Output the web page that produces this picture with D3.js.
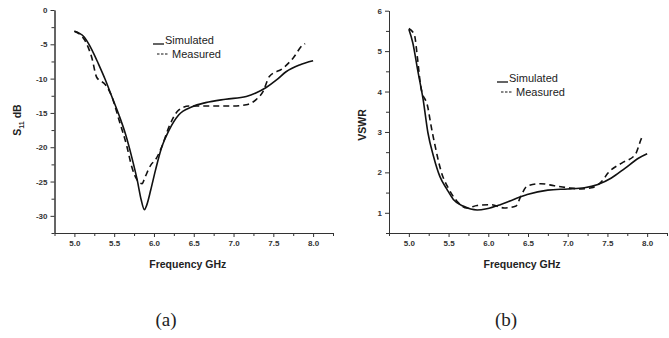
<!DOCTYPE html>
<html lang="en">
<head>
<meta charset="UTF-8">
<title>S11 and VSWR</title>
<style>
    body { margin: 0; background: #fff; }
    svg { display: block; }
    .tick text { font-family: "Liberation Sans", Arial, sans-serif; font-weight: bold; font-size: 8px; fill: #333; }
    .axis path, .axis line { stroke: #333; stroke-width: 1px; }
    .axis-title { font-family: "Liberation Sans", Arial, sans-serif; font-weight: bold; font-size: 10.5px; fill: #222; }
    .legend-text { font-family: "Liberation Sans", Arial, sans-serif; font-size: 11px; fill: #222; }
    .caption { font-family: "Liberation Serif", "Times New Roman", serif; font-size: 19px; fill: #222; }
    .curve { fill: none; stroke: #111; stroke-width: 1.6px; }
    .measured { stroke-dasharray: 6, 4; }
</style>
</head>
<body>
<svg id="chart" width="669" height="338"></svg>
<script src="https://d3js.org/d3.v7.min.js"></script>
<script>
// --- Data ---
const xTicks = [5.0, 5.5, 6.0, 6.5, 7.0, 7.5, 8.0];
const xMinor = [4.75, 5.25, 5.75, 6.25, 6.75, 7.25, 7.75, 8.25];

// (a) S11 in dB
const s11Ticks = [0, -5, -10, -15, -20, -25, -30];
const s11Minor = [-2.5, -7.5, -12.5, -17.5, -22.5, -27.5, -32.5];
const s11Sim = [
    [5.0, -3.1], [5.12, -3.9], [5.22, -5.8], [5.3, -7.8], [5.39, -10.2], [5.47, -12.6],
    [5.56, -15.3], [5.64, -18.0], [5.72, -21.4], [5.79, -24.8], [5.84, -27.7], [5.88, -29.1],
    [5.91, -28.4], [5.96, -26.2], [6.02, -23.3], [6.1, -19.9], [6.19, -17.5], [6.31, -15.3],
    [6.48, -14.1], [6.65, -13.5], [6.9, -13.0], [7.16, -12.6], [7.28, -12.1], [7.41, -11.3],
    [7.54, -10.2], [7.66, -9.0], [7.83, -8.0], [8.0, -7.4]
];
const s11Meas = [
    [5.0, -3.1], [5.13, -4.4], [5.22, -7.0], [5.28, -9.8], [5.39, -10.9], [5.47, -12.6],
    [5.56, -16.0], [5.66, -19.9], [5.72, -22.8], [5.79, -24.8], [5.85, -25.3], [5.89, -24.3],
    [5.96, -22.6], [6.02, -21.8], [6.1, -19.9], [6.19, -17.0], [6.31, -14.6], [6.44, -14.0],
    [6.65, -14.0], [6.99, -14.0], [7.16, -13.8], [7.28, -13.1], [7.37, -11.9], [7.45, -9.7],
    [7.62, -8.5], [7.75, -7.0], [7.87, -5.1], [7.9, -4.9]
];

// (b) VSWR
const vswrTicks = [1, 2, 3, 4, 5, 6];
const vswrMinor = [0.5, 1.5, 2.5, 3.5, 4.5, 5.5];
const vswrSim = [
    [5.0, 5.54], [5.05, 5.2], [5.11, 4.54], [5.18, 3.8], [5.24, 2.98], [5.31, 2.4],
    [5.39, 1.9], [5.48, 1.58], [5.56, 1.33], [5.69, 1.16], [5.86, 1.07], [5.98, 1.1],
    [6.15, 1.2], [6.32, 1.33], [6.49, 1.45], [6.75, 1.56], [7.0, 1.59], [7.21, 1.62],
    [7.38, 1.7], [7.55, 1.86], [7.72, 2.1], [7.89, 2.35], [8.0, 2.46]
];
const vswrMeas = [
    [5.0, 5.56], [5.07, 5.4], [5.11, 4.8], [5.15, 4.12], [5.24, 3.6], [5.28, 3.15],
    [5.33, 2.66], [5.41, 2.0], [5.5, 1.6], [5.6, 1.3], [5.73, 1.12], [5.86, 1.18],
    [6.03, 1.2], [6.2, 1.12], [6.35, 1.17], [6.41, 1.41], [6.49, 1.66], [6.66, 1.72],
    [6.83, 1.67], [7.0, 1.62], [7.17, 1.59], [7.3, 1.62], [7.43, 1.78], [7.51, 1.99],
    [7.68, 2.23], [7.85, 2.44], [7.92, 2.8], [7.94, 2.9]
];

const svg = d3.select("#chart");

function panel(opts) {
    const x = d3.scaleLinear().domain([4.75, 8.25]).range(opts.xRange);
    const y = d3.scaleLinear().domain(opts.yDomain).range([233, opts.yTop]);
    const g = svg.append("g");

    // minor ticks first, then the major axis on top
    g.append("g").attr("class", "axis")
        .attr("transform", "translate(0,233)")
        .call(d3.axisBottom(x).tickValues(xMinor).tickSize(3).tickSizeOuter(0).tickFormat(""));
    g.append("g").attr("class", "axis")
        .attr("transform", "translate(0,233)")
        .call(d3.axisBottom(x).tickValues(xTicks).tickSize(4).tickSizeOuter(0).tickPadding(3).tickFormat(d3.format(".1f")));
    g.append("g").attr("class", "axis")
        .attr("transform", `translate(${opts.xRange[0]},0)`)
        .call(d3.axisLeft(y).tickValues(opts.yMinor).tickSize(3).tickSizeOuter(0).tickFormat(""));
    g.append("g").attr("class", "axis")
        .attr("transform", `translate(${opts.xRange[0]},0)`)
        .call(d3.axisLeft(y).tickValues(opts.yTicks).tickSize(4).tickSizeOuter(0).tickPadding(3)
            .tickFormat(d => String(d)));

    const line = d3.line()
        .x(d => x(d[0]))
        .y(d => y(d[1]))
        .curve(d3.curveMonotoneX);

    g.append("path").datum(opts.sim).attr("class", "curve").attr("d", line);
    g.append("path").datum(opts.meas).attr("class", "curve measured").attr("d", line);

    // axis titles
    g.append("text").attr("class", "axis-title")
        .attr("x", (opts.xRange[0] + opts.xRange[1]) / 2 - 6)
        .attr("y", 268)
        .attr("text-anchor", "middle")
        .text("Frequency GHz");
    const yt = g.append("text").attr("class", "axis-title")
        .attr("transform", `translate(${opts.yTitleX},${opts.yTitleY}) rotate(-90)`)
        .attr("text-anchor", "middle");
    opts.yTitle(yt);

    // legend
    const lg = g.append("g").attr("transform", `translate(${opts.legend[0]},${opts.legend[1]})`);
    lg.append("line").attr("class", "curve").attr("x1", 0).attr("x2", 11).attr("y1", 0).attr("y2", 0)
        .style("stroke-width", "1.3px");
    lg.append("text").attr("class", "legend-text").attr("x", 12).attr("y", 0).text("Simulated");
    lg.append("line").attr("class", "curve").attr("x1", 4).attr("x2", 16).attr("y1", 10).attr("y2", 10)
        .style("stroke-dasharray", "2.5,1.5").style("stroke-width", "1.1px");
    lg.append("text").attr("class", "legend-text").attr("x", 19).attr("y", 14).text("Measured");

    // caption
    svg.append("text").attr("class", "caption")
        .attr("x", opts.caption).attr("y", 326)
        .attr("text-anchor", "middle")
        .text(opts.label);
}

panel({
    xRange: [54.5, 333],
    yDomain: [-32.5, 0], yTop: 10,
    yTicks: s11Ticks, yMinor: s11Minor,
    sim: s11Sim, meas: s11Meas,
    yTitleX: 21, yTitleY: 120,
    yTitle: t => {
        t.append("tspan").text("S");
        t.append("tspan").attr("dy", 3).style("font-size", "7px").text("11");
        t.append("tspan").attr("dy", -3).text(" dB");
    },
    legend: [153, 44],
    caption: 166, label: "(a)"
});

panel({
    xRange: [389, 667],
    yDomain: [0.5, 6], yTop: 10.7,
    yTicks: vswrTicks, yMinor: vswrMinor,
    sim: vswrSim, meas: vswrMeas,
    yTitleX: 366, yTitleY: 125,
    yTitle: t => t.text("VSWR"),
    legend: [497, 82],
    caption: 506, label: "(b)"
});
</script>
</body>
</html>
